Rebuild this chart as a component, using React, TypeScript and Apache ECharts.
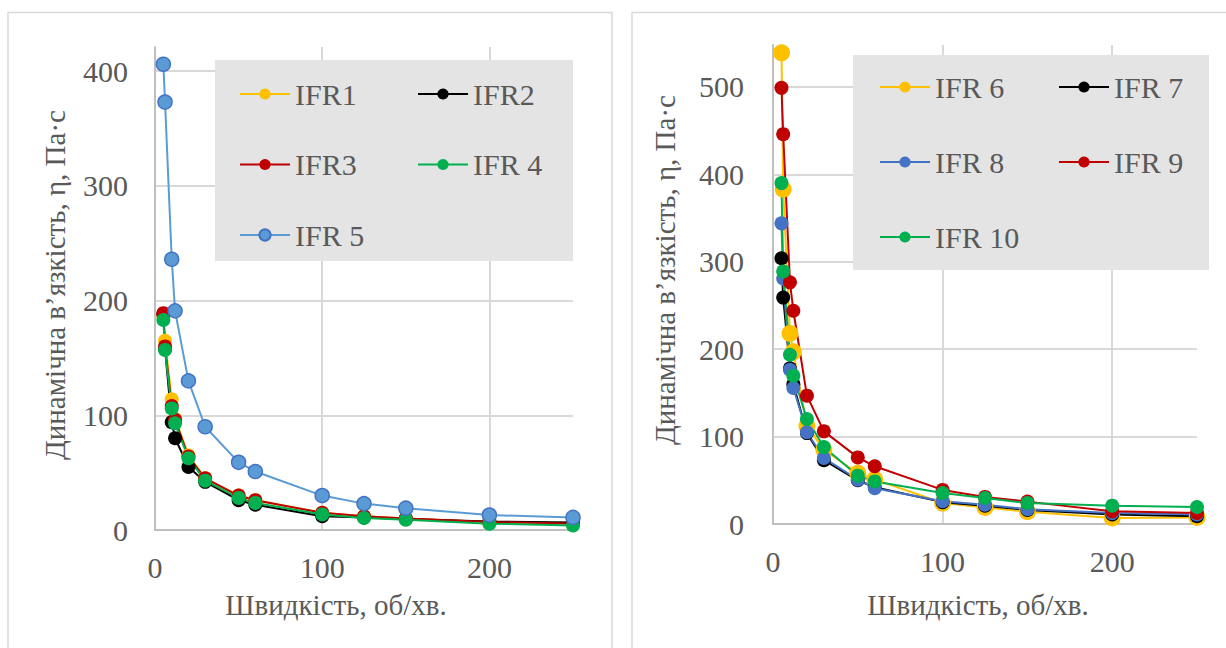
import { useEffect, useRef } from "react";
import * as echarts from "echarts";

// Rotation speeds, rpm
const speeds = [5, 6, 10, 12, 20, 30, 50, 60, 100, 125, 150, 200, 250];

// Dynamic viscosity, Pa·s — left panel
const ifr1 = [186, 165, 114, 97, 65, 45, 30, 26, 15, 12, 10, 7, 6];
const ifr2 = [188, 158, 94, 80, 55, 42, 26, 22, 12, 11, 9.5, 7.5, 6.5];
const ifr3 = [189, 160, 108, 96, 64, 45, 30, 26, 15, 12, 10, 7, 5.5];
const ifr4 = [183, 157, 106, 93, 62.5, 43, 28, 23.6, 13.6, 10.5, 9, 5.5, 4];
const ifr5 = [406, 373, 236, 191, 130, 90, 59, 51, 30, 23, 19, 13, 11];

// Dynamic viscosity, Pa·s — right panel
const ifr6 = [539, 383, 218, 197, 112, 85, 58, 51, 24, 19, 14, 7, 7.5];
const ifr7 = [304, 259, 178, 160, 104, 73, 50, 42, 25, 21, 16, 11, 9];
const ifr8 = [344, 281, 176.5, 155.6, 105, 75.5, 50.7, 41, 26, 22, 17, 12.5, 11];
const ifr9 = [499, 446, 276.5, 244, 146.8, 106, 76.2, 66, 39, 31, 25.6, 14.5, 12.6];
const ifr10 = [390, 289, 193.7, 169.7, 120, 88, 55.3, 48.7, 35.5, 29.7, 24, 21, 19.4];

const xTitle = "Швидкість, об/хв.";
const yTitle = "Динамічна в’язкість, η, Па·с";

const FONT = "Liberation Serif";
const TEXT = "#595959";

type S = { name: string; color: string; values: number[]; size?: number; border?: string };

const leftSeries: S[] = [
  { name: "IFR1", color: "#FFC000", values: ifr1 },
  { name: "IFR2", color: "#000000", values: ifr2 },
  { name: "IFR3", color: "#C00000", values: ifr3 },
  { name: "IFR 4", color: "#00B050", values: ifr4 },
  { name: "IFR 5", color: "#5B9BD5", values: ifr5, border: "#4472C4" },
];

const rightSeries: S[] = [
  { name: "IFR 6", color: "#FFC000", values: ifr6, size: 17 },
  { name: "IFR 7", color: "#000000", values: ifr7 },
  { name: "IFR 8", color: "#4472C4", values: ifr8 },
  { name: "IFR 9", color: "#C00000", values: ifr9 },
  { name: "IFR 10", color: "#00B050", values: ifr10 },
];

function makeSeries(list: S[], idx: number) {
  return list.map((s) => ({
    name: s.name,
    type: "line",
    xAxisIndex: idx,
    yAxisIndex: idx,
    symbol: "circle",
    symbolSize: s.size ?? 14,
    showSymbol: true,
    data: speeds.map((x, i) => [x, s.values[i]]),
    lineStyle: { color: s.color, width: 2 },
    itemStyle: {
      color: s.color,
      borderColor: s.border ?? s.color,
      borderWidth: s.border ? 1.5 : 0,
    },
    emphasis: { disabled: true },
  }));
}

function xAxis(idx: number) {
  return {
    type: "value",
    gridIndex: idx,
    min: 0,
    max: 250,
    interval: 100,
    axisLine: { show: true, lineStyle: { color: "#BFBFBF", width: 2 } },
    axisTick: { show: false },
    axisLabel: {
      fontSize: 30,
      fontFamily: FONT,
      color: TEXT,
      margin: 22,
      showMaxLabel: false,
    },
    splitLine: { show: true, showMaxLine: false, lineStyle: { color: "#D9D9D9", width: 2 } },
  };
}

function yAxis(idx: number, max: number, margin: number) {
  return {
    type: "value",
    gridIndex: idx,
    min: 0,
    max,
    interval: 100,
    axisLine: { show: true, lineStyle: { color: "#BFBFBF", width: 2 } },
    axisTick: { show: false },
    axisLabel: {
      fontSize: 30,
      fontFamily: FONT,
      color: TEXT,
      margin,
      showMaxLabel: false,
    },
    splitLine: { show: true, showMaxLine: false, lineStyle: { color: "#D9D9D9", width: 2 } },
  };
}

function legend(names: string[], left: number, top: number, gap: number) {
  return {
    data: names,
    orient: "vertical",
    left,
    top,
    padding: 0,
    itemGap: gap,
    itemWidth: 50,
    itemHeight: 14,
    selectedMode: false,
    z: 10,
    textStyle: { fontSize: 30, lineHeight: 30, fontFamily: FONT, color: TEXT },
  };
}

function titleText(text: string, x: number, y: number, vertical: boolean) {
  return {
    type: "text",
    x,
    y,
    rotation: vertical ? Math.PI / 2 : 0,
    z: 5,
    style: {
      text,
      font: `29px ${FONT}`,
      fill: TEXT,
      align: "center",
      verticalAlign: "middle",
    },
  };
}

export default function App() {
  const ref = useRef<HTMLDivElement>(null);

  useEffect(() => {
    const host = ref.current;
    if (!host) return;
    const chart = echarts.init(host, null, { renderer: "svg" });
    chart.setOption({
      animation: false,
      backgroundColor: "#FFFFFF",
      grid: [
        { left: 155, top: 47, width: 418, height: 483 },
        { left: 773, top: 45, width: 424, height: 479 },
      ],
      xAxis: [xAxis(0), xAxis(1)],
      yAxis: [yAxis(0, 421, 27), yAxis(1, 548, 29)],
      legend: [
        legend(["IFR1", "IFR3", "IFR 5"], 239, 79, 40.5),
        legend(["IFR2", "IFR 4"], 417, 79, 40.5),
        legend(["IFR 6", "IFR 8", "IFR 10"], 879, 72, 45),
        legend(["IFR 7", "IFR 9"], 1058, 72, 45),
      ],
      graphic: [
        {
          type: "rect",
          shape: { x: 8, y: 12.5, width: 604, height: 680 },
          style: { fill: "none", stroke: "#D9D9D9", lineWidth: 1.5 },
          z: 1,
        },
        {
          type: "rect",
          shape: { x: 632, y: 12.5, width: 640, height: 680 },
          style: { fill: "none", stroke: "#D9D9D9", lineWidth: 1.5 },
          z: 1,
        },
        {
          type: "rect",
          shape: { x: 215, y: 60, width: 358, height: 201 },
          style: { fill: "#E4E4E4" },
          z: 3,
        },
        {
          type: "rect",
          shape: { x: 853, y: 55, width: 356, height: 215 },
          style: { fill: "#E4E4E4" },
          z: 3,
        },
        titleText(yTitle, 55, 285, true),
        titleText(xTitle, 336, 605, false),
        titleText(yTitle, 665, 270, true),
        titleText(xTitle, 978, 605, false),
      ],
      series: [...makeSeries(leftSeries, 0), ...makeSeries(rightSeries, 1)],
    });
    return () => chart.dispose();
  }, []);

  return (
    <div
      ref={ref}
      style={{ position: "absolute", left: 0, top: 0, width: 1226, height: 648 }}
    />
  );
}
